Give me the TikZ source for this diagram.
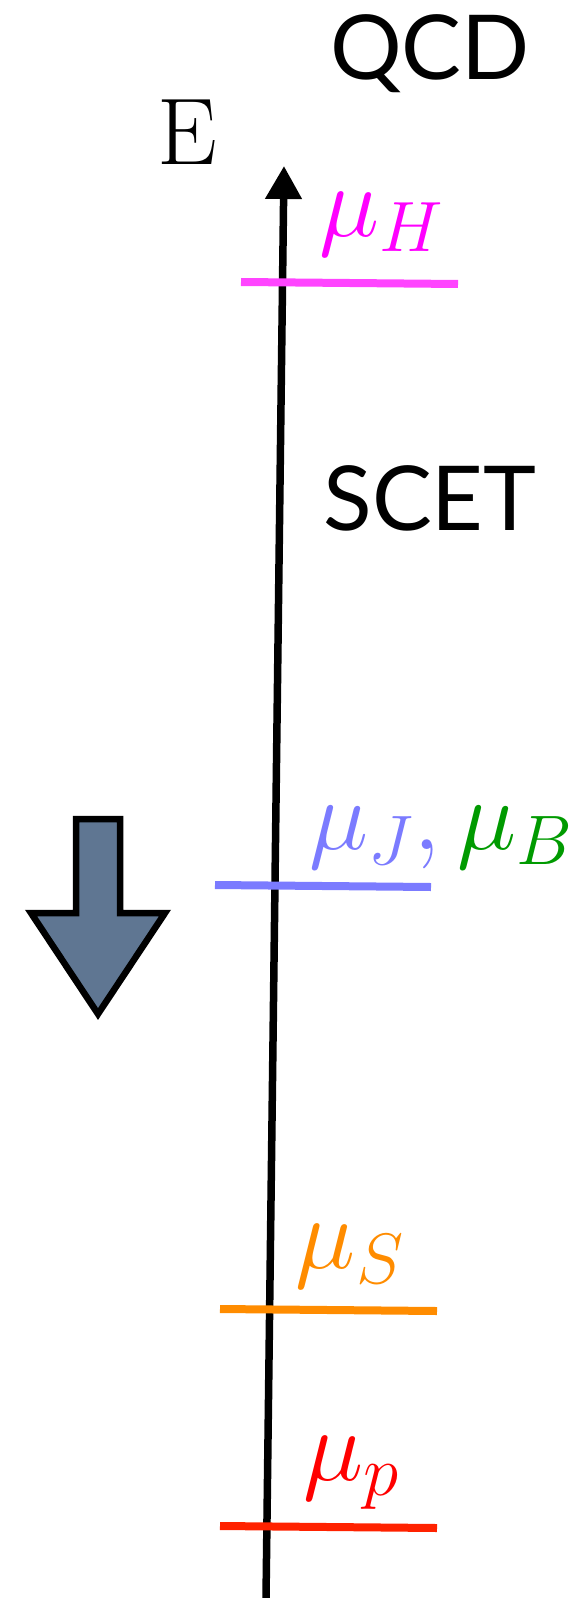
\RequirePackage{fix-cm}
\documentclass[tikz,border=0pt]{standalone}
\usepackage{amsmath,amssymb}
\usepackage{fontspec}
\usepackage{tikz}
\usepackage{xcolor}
\usetikzlibrary{arrows.meta,positioning,calc}
\newfontfamily\gillfont{Lato}
\definecolor{ink}     {HTML}{000000}
\definecolor{hardmag} {HTML}{FF00FF}
\definecolor{hardline}{HTML}{FF44FF}
\definecolor{jetblue} {HTML}{7B7BFF}
\definecolor{beamgrn} {HTML}{009A00}
\definecolor{softorg} {HTML}{FF8C00}
\definecolor{protred} {HTML}{FF0000}
\definecolor{protline}{HTML}{FF2200}
\definecolor{flowfill}{HTML}{5F7692}
\tikzset{
  axisline/.style ={draw=ink, line width=0.15cm,
                    -{Triangle[length=0.66cm,width=0.7cm]}},
  level/.style    ={line width=0.16cm},
  theory/.style   ={font=\gillfont\fontsize{51}{54}\selectfont, inner sep=0pt},
  scalelab/.style ={font=\fontsize{58}{60}\selectfont, inner sep=0pt},
  flow/.style     ={draw=ink, fill=flowfill, line width=0.13cm, line join=miter},
}

\begin{document}
\begin{tikzpicture}[x=0.02cm,y=-0.02cm]
  \useasboundingbox (0,0) rectangle (583,1598);
  % energy axis
  \coordinate (axbot) at (266,1598);
  \coordinate (axtop) at (284,166);
  \draw[axisline] (axbot) -- (axtop);
  \node[font=\fontsize{54}{56}\selectfont, inner sep=0pt, anchor=base] (elab) at (187,165) {$\mathrm{E}$};

  % theories
  \node[theory, anchor=base] (qcd)  at (430,80)  {QCD};
  \node[theory, anchor=base] (scet) at (430,530) {SCET};

  % scales
  \coordinate (hl) at (241,282);  \coordinate (hr) at (458,284);
  \coordinate (jl) at (215,885);  \coordinate (jr) at (431,887);
  \coordinate (sl) at (220,1309); \coordinate (sr) at (437,1311);
  \coordinate (pl) at (220,1526); \coordinate (pr) at (437,1528);
  \draw[level, hardline] (hl) -- (hr);
  \draw[level, jetblue]  (jl) -- (jr);
  \draw[level, softorg]  (sl) -- (sr);
  \draw[level, protline] (pl) -- (pr);

  \node[scalelab, text=hardmag] (muh) at (382,224) {$\mu_H$};
  \node[scalelab, font=\fontsize{57}{59}\selectfont] (mujb) at (441,838)
    {$\color{jetblue}\mu_J,\color{beamgrn}\mu_B$};
  \node[scalelab, text=softorg] (mus) at (350,1256) {$\mu_S$};
  \node[scalelab, text=protred] (mup) at (351,1473) {$\mu_p$};

  % running down
  \draw[flow] (76,819) -- (120,819) -- (120,913) -- (165,913)
    -- (98,1014) -- (31,913) -- (76,913) -- cycle;
\end{tikzpicture}
\end{document}
